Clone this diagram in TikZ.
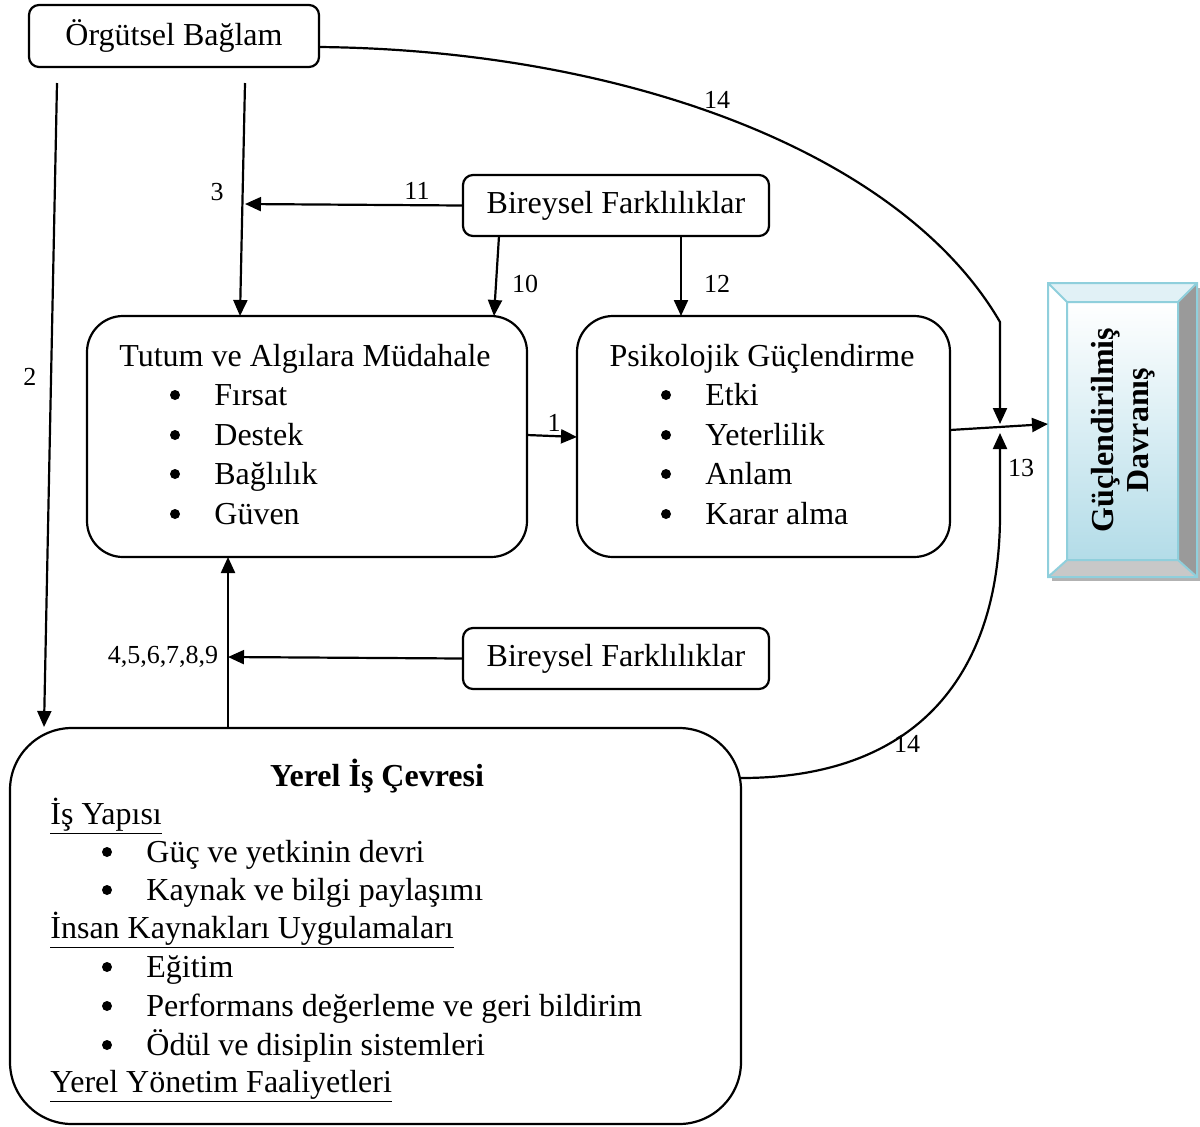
\documentclass[tikz,border=0pt]{standalone}
\usepackage{fontspec}
\setmainfont{Liberation Serif}
\usetikzlibrary{arrows.meta,calc}
\definecolor{bevelline}{HTML}{8FCFDC}
\definecolor{bevelgray}{HTML}{9A9A9A}
\definecolor{bevellight}{HTML}{C8C8C8}
\definecolor{facetop}{HTML}{FFFFFF}
\definecolor{facebottom}{HTML}{B3DCE8}
\begin{document}
\begin{tikzpicture}[x=0.5pt,y=-0.5pt,
  box/.style={draw, line width=1.1pt, rounded corners=#1, inner sep=0pt},
  box/.default=5pt,
  main/.style={font=\fontsize{16}{19}\selectfont, inner sep=0pt},
  item/.style={main, anchor=base west},
  dot/.style={circle, fill=black, inner sep=0pt, minimum size=5pt},
  lbl/.style={font=\fontsize{13}{15}\selectfont, inner sep=0pt},
  conn/.style={line width=1.1pt},
  tip/.style={conn, -{Triangle[length=8pt,width=7pt]}}]
\useasboundingbox (0,0) rectangle (1200,1126);

% ---------- boxes ----------
\node[box, main, minimum width=145pt, minimum height=31pt] (og) at (174,36) {Örgütsel Bağlam};
\node[box, main, minimum width=153pt, minimum height=30.5pt] (bf1) at (616,205.5) {Bireysel Farklılıklar};
\node[box, main, minimum width=153pt, minimum height=30.5pt] (bf2) at (616,658.5) {Bireysel Farklılıklar};
\node[box=18pt, minimum width=220pt, minimum height=120.5pt] (tt) at (307,436.5) {};
\node[box=18pt, minimum width=186.5pt, minimum height=120.5pt] (ps) at (763.5,436.5) {};
\node[box=31pt, minimum width=365.5pt, minimum height=198pt] (ye) at (375.5,926) {};

% Tutum ve Algılara Müdahale
\node[main, anchor=base] (ttt) at (305,366) {Tutum ve Algılara Müdahale};
\foreach \y/\t [count=\i] in {405/Fırsat, 445/Destek, 484/Bağlılık, 524/Güven}{
  \node[dot] (ttb\i) at (175,\y-10) {};
  \node[item] (tti\i) at (214,\y) {\t};
}

% Psikolojik Güçlendirme
\node[main, anchor=base] (pst) at (762,366) {Psikolojik Güçlendirme};
\foreach \y/\t [count=\i] in {405/Etki, 445/Yeterlilik, 484/Anlam, 524/Karar alma}{
  \node[dot] (psb\i) at (666,\y-10) {};
  \node[item] (psi\i) at (705,\y) {\t};
}

% Yerel İş Çevresi
\node[main, anchor=base, font=\fontsize{16}{19}\selectfont\bfseries] (yet) at (377,786) {Yerel İş Çevresi};
\node[item] (yh1) at (50,824) {\underline{İş Yapısı}};
\node[item] (yh2) at (50,938) {\underline{İnsan Kaynakları Uygulamaları}};
\node[item] (yh3) at (50,1092) {\underline{Yerel Yönetim Faaliyetleri}};
\foreach \y/\t [count=\i] in {862/Güç ve yetkinin devri, 900/Kaynak ve bilgi paylaşımı,
    977/Eğitim, 1016/Performans değerleme ve geri bildirim, 1055/Ödül ve disiplin sistemleri}{
  \node[dot] (yb\i) at (107,\y-10) {};
  \node[item] (yi\i) at (146,\y) {\t};
}

% ---------- beveled outcome box ----------
\fill[gray!60] (1052,288) rectangle (1200,581);
\fill[facetop!60!facebottom] (1048,283) -- (1197,283) -- (1178,302) -- (1067,302) -- cycle;
\fill[white] (1048,283) -- (1067,302) -- (1067,560) -- (1048,577) -- cycle;
\fill[bevelgray] (1197,283) -- (1197,577) -- (1178,560) -- (1178,302) -- cycle;
\fill[bevellight] (1048,577) -- (1197,577) -- (1178,560) -- (1067,560) -- cycle;
\shade[top color=facetop, bottom color=facebottom] (1067,302) rectangle (1178,560);
\draw[bevelline, line width=1pt] (1048,283) rectangle (1197,577)
  (1067,302) rectangle (1178,560)
  (1048,283) -- (1067,302) (1197,283) -- (1178,302)
  (1048,577) -- (1067,560) (1197,577) -- (1178,560);
\node[minimum width=74.5pt, minimum height=147pt, inner sep=0pt] (gd) at (1122.5,430) {};
\node[main, rotate=90, align=center, font=\fontsize{16}{17.5}\selectfont\bfseries] (gdt) at (1123,430)
  {Güçlendirilmiş\\Davranış};

% ---------- connector end points ----------
\coordinate (a2s) at (57,83);   \coordinate (a2e) at (44,727);
\coordinate (a3s) at (245,83);  \coordinate (a3e) at (240,316);
\coordinate (a11e) at (245,204);
\coordinate (a10s) at (499,236); \coordinate (a10e) at (494,316);
\coordinate (a12s) at (681,236); \coordinate (a12e) at (681,316);
\coordinate (a1s) at (527,435);  \coordinate (a1e) at (577,437);
\coordinate (aos) at (950,430);  \coordinate (aoe) at (1048,424);
\coordinate (t14s) at (319,47);  \coordinate (t14k) at (1000,322); \coordinate (t14e) at (1000,424);
\coordinate (b14s) at (741,778); \coordinate (b14k) at (1000,515); \coordinate (b14e) at (1000,433);
\coordinate (a4s) at (228,728);  \coordinate (a4e) at (228,557);
\coordinate (abe) at (228,657);

% ---------- connectors ----------
\draw[tip] (a2s) -- (a2e);
\draw[tip] (a3s) -- (a3e);
\draw[tip] (bf1.west) -- (a11e);
\draw[tip] (a10s) -- (a10e);
\draw[tip] (a12s) -- (a12e);
\draw[tip] (a1s) -- (a1e);
\draw[tip] (aos) -- (aoe);
\draw[tip] (t14s) .. controls (620,50) and (900,150) .. (t14k) -- (t14e);
\draw[tip] (b14s) .. controls (930,778) and (1000,660) .. (b14k) -- (b14e);
\draw[tip] (a4s) -- (a4e);
\draw[tip] (bf2.west) -- (abe);

% ---------- connector labels ----------
\node[lbl] (l2) at (30,377) {2};
\node[lbl] (l3) at (217,192) {3};
\node[lbl] (l11) at (417,191) {11};
\node[lbl] (l10) at (525,284) {10};
\node[lbl] (l12) at (717,284) {12};
\node[lbl] (l1) at (554,423) {1};
\node[lbl] (l14a) at (717,100) {14};
\node[lbl] (l14b) at (907,744) {14};
\node[lbl] (l13) at (1021,468) {13};
\node[lbl] (l4) at (163,657) {4,5,6,7,8,9};
\end{tikzpicture}
\end{document}
